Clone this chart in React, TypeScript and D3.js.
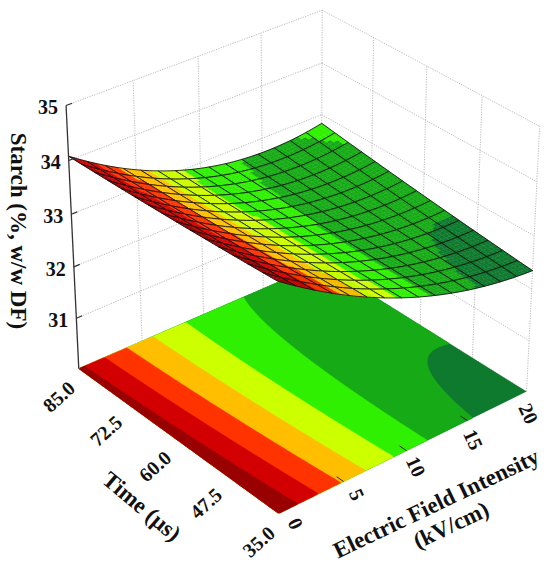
import * as d3 from 'd3';
import { useMemo } from 'react';

const W = 550;
const H = 568;

const eTicks = [0, 5, 10, 15, 20];
const tTicks = [35, 47.5, 60, 72.5, 85];
const tTickLabels = ['35.0', '47.5', '60.0', '72.5', '85.0'];
const zTicks = [31, 32, 33, 34, 35];
const eDomain: [number, number] = [0, 20];
const tDomain: [number, number] = [35, 85];
const zDomain: [number, number] = [30, 35];

// contour levels and the band fills, low -> high
const levels = [32.5, 32.75, 33, 33.25, 33.5, 33.75, 34];
const bandColors = ['#0e7a2e', '#16ab16', '#2ef000', '#ccff00', '#ffbf00', '#ff3300', '#d20000', '#990000'];

// fitted starch surface, coded e = E/20, t = (T-35)/50
// terms: [1, e, e^2, t, t^2, e*t, e^2*t]
const modelCoef = [34.25, -3.5, 1.6, -0.26, 0.089, 0.02, 0.63];

// camera: box aspect (T, Z vs E), azimuth, elevation, distance, focal length, centre
const boxAspect = [0.9976, 0.9432];
const azimuthDeg = 230.33;
const elevationDeg = 31.21;
const camDistance = 8.75;
const focalPx = 2863.5;
const viewCenter = [301.3, 251.6];

type V3 = number[];
const dot = (a: V3, b: V3) => a[0] * b[0] + a[1] * b[1] + a[2] * b[2];
const cross = (a: V3, b: V3) => [
  a[1] * b[2] - a[2] * b[1],
  a[2] * b[0] - a[0] * b[2],
  a[0] * b[1] - a[1] * b[0],
];
const unit = (a: V3) => {
  const l = Math.hypot(a[0], a[1], a[2]);
  return a.map((v) => v / l);
};

const eCode = d3.scaleLinear().domain(eDomain).range([0, 1]);
const tCode = d3.scaleLinear().domain(tDomain).range([0, 1]);

function starch(E: number, T: number) {
  const e = eCode(E);
  const t = tCode(T);
  const [b0, b1, b2, b3, b4, b5, b6] = modelCoef;
  return b0 + b1 * e + b2 * e * e + b3 * t + b4 * t * t + b5 * e * t + b6 * e * e * t;
}

function makeProjector() {
  const [ay, az] = boxAspect;
  const xs = d3.scaleLinear().domain(eDomain).range([-0.5, 0.5]);
  const ys = d3.scaleLinear().domain(tDomain).range([-ay / 2, ay / 2]);
  const zs = d3.scaleLinear().domain(zDomain).range([-az / 2, az / 2]);
  const th = (azimuthDeg * Math.PI) / 180;
  const ph = (elevationDeg * Math.PI) / 180;
  const cam = [
    camDistance * Math.cos(ph) * Math.cos(th),
    camDistance * Math.cos(ph) * Math.sin(th),
    camDistance * Math.sin(ph),
  ];
  const fw = unit([-cam[0], -cam[1], -cam[2]]);
  const rt = unit(cross(fw, [0, 0, 1]));
  const up = cross(rt, fw);
  const [cx, cy] = viewCenter;
  return (E: number, T: number, Z: number) => {
    const d = [xs(E) - cam[0], ys(T) - cam[1], zs(Z) - cam[2]];
    const depth = dot(d, fw);
    return [cx + (focalPx * dot(d, rt)) / depth, cy - (focalPx * dot(d, up)) / depth, depth];
  };
}

const font = '"Liberation Serif", "Times New Roman", serif';

export default function App() {
  const proj = useMemo(() => makeProjector(), []);
  const color = d3.scaleThreshold<number, string>().domain(levels).range(bandColors);

  const pt = (E: number, T: number, Z: number) => {
    const p = proj(E, T, Z);
    return `${p[0].toFixed(2)},${p[1].toFixed(2)}`;
  };
  const seg = (a: V3, b: V3) => `M${pt(a[0], a[1], a[2])}L${pt(b[0], b[1], b[2])}`;

  // back walls grid
  const wallLines: string[] = [];
  [30, ...zTicks].forEach((z) => {
    wallLines.push(seg([0, 85, z], [20, 85, z]));
    wallLines.push(seg([20, 85, z], [20, 35, z]));
  });
  eTicks.slice(1).forEach((e) => wallLines.push(seg([e, 85, 30], [e, 85, 35])));
  tTicks.slice(0, -1).forEach((t) => wallLines.push(seg([20, t, 30], [20, t, 35])));

  // floor contour map
  const floor = useMemo(() => {
    const nx = 120;
    const ny = 120;
    const gx = d3.scaleLinear().domain([0, nx]).range(eDomain);
    const gy = d3.scaleLinear().domain([0, ny]).range(tDomain);
    const values = new Array(nx * ny);
    for (let j = 0; j < ny; j++)
      for (let i = 0; i < nx; i++) values[j * nx + i] = starch(gx(i + 0.5), gy(j + 0.5));
    const contours = d3.contours().size([nx, ny]).thresholds(levels)(values);
    const path = d3.geoPath(
      d3.geoTransform({
        point(x: number, y: number) {
          const p = proj(gx(x), gy(y), 30);
          (this as any).stream.point(p[0], p[1]);
        },
      })
    );
    return contours.map((c, i) => ({ d: path(c as any) ?? '', fill: bandColors[i + 1] }));
  }, [proj]);

  const floorBase = `M${pt(0, 35, 30)}L${pt(20, 35, 30)}L${pt(20, 85, 30)}L${pt(0, 85, 30)}Z`;

  // surface mesh, drawn back to front
  const cells = useMemo(() => {
    const nCells = 15;
    const nSub = 4;
    const n = nCells * nSub;
    const ge = d3.scaleLinear().domain([0, n]).range(eDomain);
    const gt = d3.scaleLinear().domain([0, n]).range(tDomain);
    const P: number[][][] = [];
    for (let i = 0; i <= n; i++) {
      P.push([]);
      for (let j = 0; j <= n; j++) {
        const E = ge(i);
        const T = gt(j);
        P[i].push(proj(E, T, starch(E, T)));
      }
    }
    const f = (p: number[]) => `${p[0].toFixed(2)},${p[1].toFixed(2)}`;
    const out: { depth: number; subs: { d: string; fill: string }[]; outline: string }[] = [];
    for (let ci = 0; ci < nCells; ci++)
      for (let cj = 0; cj < nCells; cj++) {
        const subs: { d: string; fill: string }[] = [];
        for (let a = 0; a < nSub; a++)
          for (let b = 0; b < nSub; b++) {
            const i = ci * nSub + a;
            const j = cj * nSub + b;
            const z = starch(ge(i + 0.5), gt(j + 0.5));
            subs.push({
              d: `M${f(P[i][j])}L${f(P[i + 1][j])}L${f(P[i + 1][j + 1])}L${f(P[i][j + 1])}Z`,
              fill: color(z),
            });
          }
        const i0 = ci * nSub;
        const j0 = cj * nSub;
        const ring: number[][] = [];
        for (let a = 0; a < nSub; a++) ring.push(P[i0 + a][j0]);
        for (let b = 0; b < nSub; b++) ring.push(P[i0 + nSub][j0 + b]);
        for (let a = nSub; a > 0; a--) ring.push(P[i0 + a][j0 + nSub]);
        for (let b = nSub; b > 0; b--) ring.push(P[i0][j0 + b]);
        const ce = ge(i0 + nSub / 2);
        const ct = gt(j0 + nSub / 2);
        out.push({
          depth: proj(ce, ct, starch(ce, ct))[2],
          subs,
          outline: 'M' + ring.map(f).join('L') + 'Z',
        });
      }
    return out.sort((a, b) => b.depth - a.depth);
  }, [proj]);

  const axisBottom = proj(0, 85, 30);
  const axisTop = proj(0, 85, 35);

  return (
    <svg width={W} height={H} style={{ position: 'absolute', left: 0, top: 0, background: '#fff' }}>
      <g fill="none" stroke="#a8a8a8" strokeWidth={0.8} strokeDasharray="1.2 1.3">
        {wallLines.map((d, i) => <path key={i} d={d} />)}
      </g>
      <path d={floorBase} fill={bandColors[0]} />
      {floor.map((c, i) => <path key={i} d={c.d} fill={c.fill} stroke={c.fill} strokeWidth={0.3} />)}
      {eTicks.slice(1, -1).map((e) => (
        <path key={e} d={seg([e, 35, 30], [e, 36.6, 30])} stroke="#222" strokeWidth={1} />
      ))}
      <g>
        {cells.map((c, k) => (
          <g key={k}>
            {c.subs.map((s, m) => <path key={m} d={s.d} fill={s.fill} stroke={s.fill} strokeWidth={0.4} />)}
            <path d={c.outline} fill="none" stroke="#111" strokeWidth={0.85} strokeLinejoin="round" />
          </g>
        ))}
      </g>
      <line x1={axisBottom[0]} y1={axisBottom[1]} x2={axisTop[0]} y2={axisTop[1]} stroke="#333" strokeWidth={1.3} />
      {zTicks.map((z) => (
        <path key={z} d={seg([0, 85, z], [0.45, 85, z])} stroke="#333" strokeWidth={1.2} />
      ))}
      <g fontFamily={font} fontWeight="bold" fill="#111">
        {zTicks.map((z) => {
          const p = proj(0, 85, z);
          return (
            <text key={z} x={p[0] - 8} y={p[1] + 2} dy="0.35em" textAnchor="end" fontSize={20}>
              {z}
            </text>
          );
        })}
        {tTicks.map((t, i) => {
          const p = proj(0, t, 30);
          return (
            <text key={t} transform={`translate(${p[0] - 20},${p[1] + 28}) rotate(-42)`} dy="0.35em" textAnchor="middle" fontSize={20}>
              {tTickLabels[i]}
            </text>
          );
        })}
        {eTicks.map((e) => {
          const p = proj(e, 35, 30);
          const k = e / 20;
          return (
            <text key={e} transform={`translate(${p[0] + 17 - 15 * k},${p[1] + 10 + 12 * k}) rotate(65)`} dy="0.35em" textAnchor="middle" fontSize={20}>
              {e}
            </text>
          );
        })}
        <text transform="translate(19,231) rotate(90)" dy="0.35em" textAnchor="middle" fontSize={23}>
          Starch (%, w/w DF)
        </text>
        <text transform="translate(142,506) rotate(40)" dy="0.35em" textAnchor="middle" fontSize={23}>
          Time (µs)
        </text>
        <text transform="translate(436,503) rotate(-25.5)" textAnchor="middle" fontSize={23}>
          <tspan x={0} dy="0.35em">Electric Field Intensity</tspan>
          <tspan x={4} dy={26}>(kV/cm)</tspan>
        </text>
      </g>
    </svg>
  );
}
